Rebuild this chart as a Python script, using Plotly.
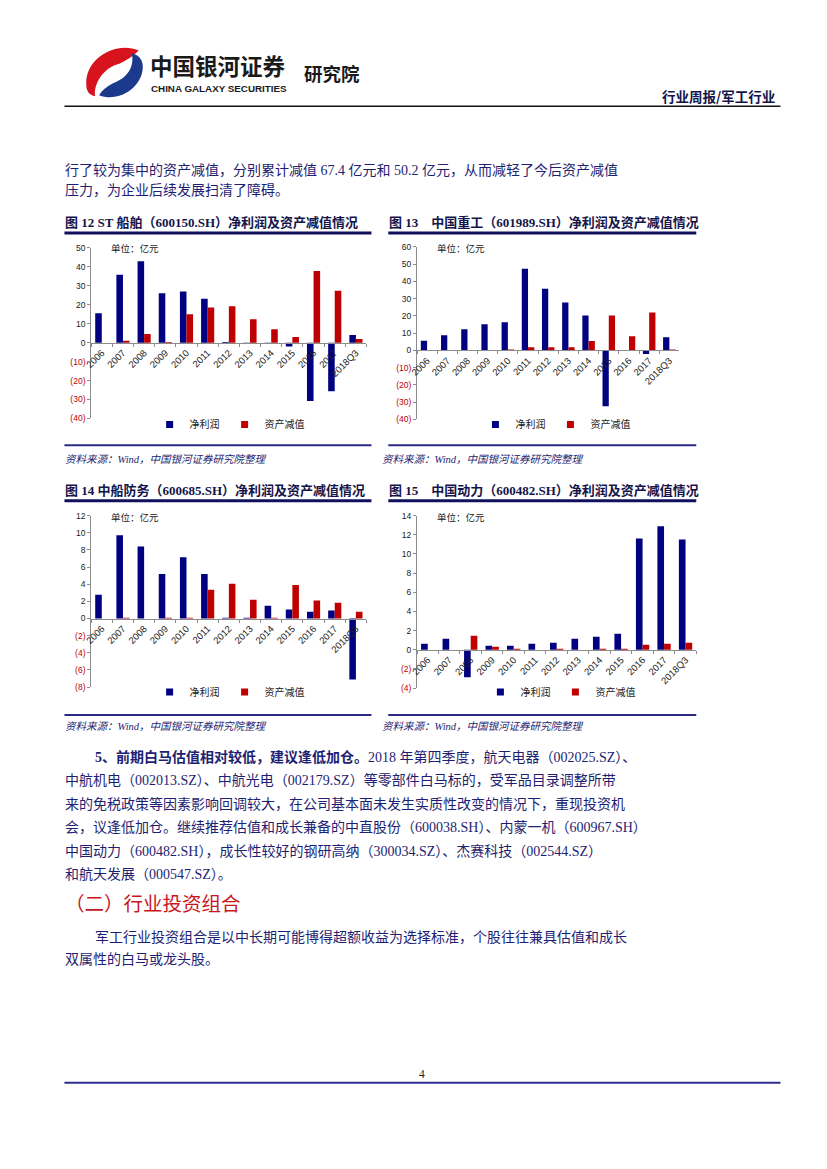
import plotly.graph_objects as go

W, H = 827, 1169

# ---------------- data ----------------
categories = ["2006", "2007", "2008", "2009", "2010", "2011", "2012",
              "2013", "2014", "2015", "2016", "2017", "2018Q3"]

c12_profit = [15.5, 35.8, 43.0, 26.0, 27.0, 23.2, 0.4, 0.1, -0.4, -2.1, -30.8, -25.7, 4.0]
c12_impair = [0.0, 1.0, 4.6, 0.4, 15.0, 18.6, 19.2, 12.3, 7.1, 3.0, 37.8, 27.4, 1.9]

c13_profit = [5.6, 8.8, 12.3, 15.1, 16.3, 47.3, 35.8, 27.8, 20.3, -32.4, 0.0, -2.1, 7.7]
c13_impair = [0.0, 0.0, 0.0, 0.0, 0.5, 1.8, 1.8, 1.8, 5.4, 20.3, 8.2, 22.0, 0.6]

c14_profit = [2.77, 9.7, 8.4, 5.2, 7.15, 5.2, 0.1, 0.1, 1.5, 1.05, 0.8, 0.92, -7.1]
c14_impair = [0.0, 0.1, 0.0, 0.1, 0.1, 3.35, 4.05, 2.2, 0.1, 3.9, 2.1, 1.85, 0.8]

c15_profit = [0.62, 1.14, -2.87, 0.42, 0.42, 0.62, 0.73, 1.14, 1.35, 1.66, 11.6, 12.9, 11.5]
c15_impair = [0.0, 0.0, 1.45, 0.31, 0.1, 0.0, 0.1, 0.0, 0.1, 0.1, 0.52, 0.62, 0.73]

c12_ticks = [-40, -30, -20, -10, 0, 10, 20, 30, 40, 50]
c13_ticks = [-40, -30, -20, -10, 0, 10, 20, 30, 40, 50, 60]
c14_ticks = [-8, -6, -4, -2, 0, 2, 4, 6, 8, 10, 12]
c15_ticks = [-4, -2, 0, 2, 4, 6, 8, 10, 12, 14]

series_names = ["净利润", "资产减值"]
unit_label = "单位：亿元"

fig_titles = [
    "图 12 ST 船舶（600150.SH）净利润及资产减值情况",
    "图 13　中国重工（601989.SH）净利润及资产减值情况",
    "图 14 中船防务（600685.SH）净利润及资产减值情况",
    "图 15　中国动力（600482.SH）净利润及资产减值情况",
]
source_text = "资料来源：Wind，中国银河证券研究院整理"

# ---------------- styles ----------------
NAVY = "#000080"
RED = "#C00000"
TXT = "#1E1E72"
DARK = "#14144A"
SANS = "Liberation Sans, Noto Sans CJK SC"
CJK = "Liberation Serif, Noto Sans CJK SC"


def px(x):
    return x / W


def py(y):
    return 1 - y / H


charts = [
    dict(p=c12_profit, q=c12_impair, t=c12_ticks, x0=84, x1=362, yt=245, yb=417,
         lx=143, ly=423, ux=102, uy=246, tx=56, ty=219, frame=(57, 367, 230, 444), sx=56, sy=458),
    dict(p=c13_profit, q=c13_impair, t=c13_ticks, x0=413, x1=678, yt=244, yb=418,
         lx=472, ly=423, ux=431, uy=246, tx=383, ty=219, frame=(384, 695, 230, 444), sx=376, sy=458),
    dict(p=c14_profit, q=c14_impair, t=c14_ticks, x0=84, x1=362, yt=515, yb=688,
         lx=143, ly=693, ux=102, uy=517, tx=56, ty=490, frame=(57, 367, 500, 716), sx=56, sy=728),
    dict(p=c15_profit, q=c15_impair, t=c15_ticks, x0=413, x1=695, yt=515, yb=689,
         lx=477, ly=693, ux=431, uy=517, tx=383, ty=490, frame=(384, 695, 500, 716), sx=376, sy=728),
]

fig = go.Figure()
layout = dict(
    width=W, height=H, margin=dict(l=0, r=0, t=0, b=0),
    paper_bgcolor="white", plot_bgcolor="white",
    barmode="group", bargap=0.38, bargroupgap=0.0,
    showlegend=True,
)
annotations = []
shapes = []


def fmt_tick(v):
    if v < 0:
        return '<span style="color:%s">(%d)</span>' % (RED, -v)
    return "%d" % v


for i, c in enumerate(charts):
    n = "" if i == 0 else str(i + 1)
    xa, ya = "x" + n, "y" + n
    lg = "legend" if i == 0 else "legend" + str(i + 1)
    fig.add_trace(go.Bar(x=categories, y=c["p"], name=series_names[0], marker_color=NAVY,
                         marker_line_width=0, xaxis=xa, yaxis=ya, showlegend=False))
    fig.add_trace(go.Bar(x=categories, y=c["q"], name=series_names[1], marker_color=RED,
                         marker_line_width=0, xaxis=xa, yaxis=ya, showlegend=False))
    # legend entries with small square symbols
    for nm, col in zip(series_names, [NAVY, RED]):
        fig.add_trace(go.Scatter(x=[None], y=[None], mode="markers", name=nm,
                                 marker=dict(symbol="square", size=7, color=col),
                                 xaxis=xa, yaxis=ya, legend=lg, showlegend=True))
    ymin, ymax = min(c["t"]), max(c["t"])
    yd0, yd1 = py(c["yb"]), py(c["yt"])
    zero_pos = yd0 + (0 - ymin) / (ymax - ymin) * (yd1 - yd0)
    layout["xaxis" + n] = dict(
        domain=[px(c["x0"]), px(c["x1"])], anchor="free", position=zero_pos,
        type="category", showline=True, linecolor="#8C8C8C", linewidth=1,
        ticks="outside", tickson="boundaries", ticklen=3, tickcolor="#8C8C8C",
        tickangle=-45, tickfont=dict(family=SANS, size=9.5, color="#222222"),
        showgrid=False, zeroline=False, fixedrange=True,
    )
    layout["yaxis" + n] = dict(
        domain=[yd0, yd1], anchor=xa, range=[ymin, ymax],
        tickmode="array", tickvals=c["t"], ticktext=[fmt_tick(v) for v in c["t"]],
        showline=True, linecolor="#8C8C8C", linewidth=1,
        ticks="outside", ticklen=3, tickcolor="#8C8C8C",
        tickfont=dict(family=SANS, size=8.5, color="#222222"),
        showgrid=False, zeroline=False, fixedrange=True,
    )
    layout[lg] = dict(
        x=px(c["lx"]), y=py(c["ly"]), xanchor="left", yanchor="middle",
        orientation="h", bgcolor="rgba(0,0,0,0)", itemwidth=30,
        font=dict(family=CJK, size=10, color="#222222"), itemsizing="trace",
    )
    annotations.append(dict(x=px(c["ux"]), y=py(c["uy"]), xref="paper", yref="paper",
                            text=unit_label, showarrow=False, xanchor="left", yanchor="middle",
                            font=dict(family=CJK, size=9.5, color="#222222")))
    annotations.append(dict(x=px(c["tx"]), y=py(c["ty"]), xref="paper", yref="paper",
                            text="<b>" + fig_titles[i] + "</b>", showarrow=False,
                            xanchor="left", yanchor="middle",
                            font=dict(family=CJK, size=13, color=DARK)))
    annotations.append(dict(x=px(c["sx"]), y=py(c["sy"]), xref="paper", yref="paper",
                            text="<i>" + source_text + "</i>", showarrow=False,
                            xanchor="left", yanchor="middle",
                            font=dict(family=CJK, size=10.5, color=TXT)))
    fx0, fx1, ft, fb = c["frame"]
    shapes.append(dict(type="line", xref="paper", yref="paper", x0=px(fx0), x1=px(fx1),
                       y0=py(ft), y1=py(ft), line=dict(color="#10105E", width=3)))
    shapes.append(dict(type="line", xref="paper", yref="paper", x0=px(fx0), x1=px(fx1),
                       y0=py(fb), y1=py(fb), line=dict(color="#2A2A86", width=2)))

# ---------------- page decorations ----------------
def path(points_cmds):
    out = []
    for cmd, pts in points_cmds:
        s = cmd
        s += " ".join("%.5f,%.5f" % (px(x), py(y)) for x, y in pts)
        out.append(s)
    return " ".join(out) + " Z"

red_logo = path([("M", [(132, 46)]),
                 ("C", [(110, 36), (78, 53), (79, 80)]),
                 ("C", [(79, 87), (82, 91), (88, 92)]),
                 ("C", [(86, 80), (96, 63), (113, 59)]),
                 ("C", [(120, 56), (127, 51), (132, 46)])])
blue_logo = path([("M", [(92, 91)]),
                  ("C", [(112, 99), (138, 82), (136, 60)]),
                  ("C", [(135, 54), (131, 50), (125, 49)]),
                  ("C", [(128, 63), (120, 74), (106, 79)]),
                  ("C", [(100, 82), (95, 86), (92, 91)])])
shapes.append(dict(type="path", xref="paper", yref="paper", path=red_logo,
                   fillcolor="#D7141E", line=dict(width=0)))
shapes.append(dict(type="path", xref="paper", yref="paper", path=blue_logo,
                   fillcolor="#1B3A8C", line=dict(width=0)))
shapes.append(dict(type="line", xref="paper", yref="paper", x0=px(57), x1=px(780),
                   y0=py(102), y1=py(102), line=dict(color="#111111", width=1.5)))
shapes.append(dict(type="line", xref="paper", yref="paper", x0=px(57), x1=px(780),
                   y0=py(1087), y1=py(1087), line=dict(color="#2E2E90", width=2)))


def txt(x, y, text, size, color=TXT, family=CJK, xanchor="left"):
    annotations.append(dict(x=px(x), y=py(y), xref="paper", yref="paper", text=text,
                            showarrow=False, xanchor=xanchor, yanchor="middle",
                            font=dict(family=family, size=size, color=color)))


txt(141, 61, "<b>中国银河证券</b>", 22.5, color="#1A1A1A", family="Noto Sans CJK SC")
txt(142, 84, "<b>CHINA GALAXY SECURITIES</b>", 9.8, color="#1A1A1A", family="Liberation Sans")
txt(297, 69, "<b>研究院</b>", 18.5, color="#1A1A1A", family="Noto Sans CJK SC")
txt(777, 92, "<b>行业周报/军工行业</b>", 13.5, color=DARK, family="Noto Sans CJK SC", xanchor="right")

body_top = [
    "行了较为集中的资产减值，分别累计减值 67.4 亿元和 50.2 亿元，从而减轻了今后资产减值",
    "压力，为企业后续发展扫清了障碍。",
]
txt(56, 166, body_top[0], 14)
txt(56, 187, body_top[1], 14)

para1 = [
    "<b>5、前期白马估值相对较低，建议逢低加仓。</b>2018 年第四季度，航天电器（002025.SZ）、",
    "中航机电（002013.SZ）、中航光电（002179.SZ）等零部件白马标的，受军品目录调整所带",
    "来的免税政策等因素影响回调较大，在公司基本面未发生实质性改变的情况下，重现投资机",
    "会，议逢低加仓。继续推荐估值和成长兼备的中直股份（600038.SH）、内蒙一机（600967.SH）",
    "中国动力（600482.SH），成长性较好的钢研高纳（300034.SZ）、杰赛科技（002544.SZ）",
    "和航天发展（000547.SZ）。",
]
for k, line in enumerate(para1):
    txt(86 if k == 0 else 56, 758 + 23.8 * k, line, 14)

txt(56, 907, "（二）行业投资组合", 19.5, color="#C8161D")
txt(86, 940, "军工行业投资组合是以中长期可能博得超额收益为选择标准，个股往往兼具估值和成长", 14)
txt(56, 963, "双属性的白马或龙头股。", 14)
txt(418, 1078, "4", 11.5, color="#222222", family="Liberation Serif", xanchor="center")

layout["annotations"] = annotations
layout["shapes"] = shapes
fig.update_layout(**layout)

fig.write_html(
    "out.html",
    config={"displayModeBar": False, "staticPlot": True},
    post_script="document.body.style.margin='0';document.documentElement.style.margin='0';document.body.style.overflow='hidden';",
)
